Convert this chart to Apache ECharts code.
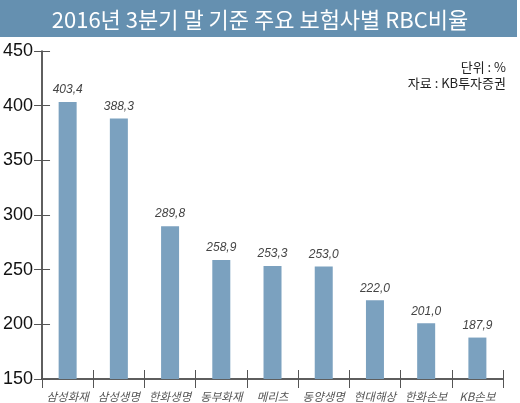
<!DOCTYPE html>
<html>
<head>
<meta charset="utf-8">
<script src="https://cdn.jsdelivr.net/npm/echarts@6/dist/echarts.min.js"></script>
<style>
  html, body { margin: 0; padding: 0; background: #fff; }
  #chart { width: 520px; height: 403px; }
</style>
</head>
<body>
<div id="chart"></div>
<script>
const titleText = '2016년 3분기 말 기준 주요 보험사별 RBC비율';
const companies = ['삼성화재', '삼성생명', '한화생명', '동부화재', '메리츠', '동양생명', '현대해상', '한화손보', 'KB손보'];
const rbcRatio = [403.4, 388.3, 289.8, 258.9, 253.3, 253.0, 222.0, 201.0, 187.9];
const yTicks = { min: 150, max: 450, interval: 50 };

const chart = echarts.init(document.getElementById('chart'), null, { renderer: 'canvas' });

const korFont = '"Noto Sans CJK KR", "Noto Sans", sans-serif';
const axisColor = '#2a2a2a';

chart.setOption({
  backgroundColor: '#fff',
  animation: false,
  title: {
    text: titleText,
    left: 'center',
    top: 4,
    textStyle: { color: '#fff', fontSize: 22, fontWeight: 'normal', fontFamily: korFont },
  },
  graphic: [
    { type: 'rect', z: -1, shape: { x: 0, y: 0, width: 517, height: 37 }, style: { fill: '#6590b0' } },
    {
      type: 'text', right: 14, top: 61,
      style: { text: '단위 : %', fill: '#222', font: '13px ' + korFont, textAlign: 'right' },
    },
    {
      type: 'text', right: 14, top: 77,
      style: { text: '자료 : KB투자증권', fill: '#222', font: '13px ' + korFont, textAlign: 'right' },
    },
  ],
  grid: { left: 38, right: 17, top: 51, bottom: 24, containLabel: false },
  xAxis: [
    {
      type: 'category',
      data: companies,
      axisLine: { lineStyle: { color: axisColor, width: 1.5 } },
      axisTick: { show: true, interval: 0, length: 9, lineStyle: { color: '#555', width: 1 } },
      axisLabel: {
        interval: 0, margin: 12, color: '#555', fontSize: 11.5, fontStyle: 'italic', fontFamily: korFont,
      },
    },
    {
      type: 'category',
      data: companies,
      position: 'bottom',
      axisLine: { show: false },
      axisTick: { show: true, interval: 0, inside: true, length: 9, lineStyle: { color: '#555', width: 1 } },
      axisLabel: { show: false },
    },
  ],
  yAxis: [
    {
      type: 'value',
      min: yTicks.min, max: yTicks.max, interval: yTicks.interval,
      axisLine: { show: true, lineStyle: { color: axisColor, width: 1.5 } },
      axisTick: { show: true, length: 8, lineStyle: { color: '#555' } },
      splitLine: { show: false },
      axisLabel: {
        margin: 9, color: '#111', fontSize: 18, fontFamily: '"Liberation Sans", Arial, sans-serif',
      },
    },
    {
      type: 'value',
      position: 'left',
      min: yTicks.min, max: yTicks.max, interval: yTicks.interval,
      axisLine: { show: false },
      axisTick: { show: true, inside: true, length: 8, lineStyle: { color: '#555' } },
      splitLine: { show: false },
      axisLabel: { show: false },
    },
  ],
  series: [{
    type: 'bar',
    data: rbcRatio,
    barWidth: 18,
    itemStyle: { color: '#7ba1bf' },
    label: {
      show: true,
      position: 'top',
      distance: 6,
      color: '#444',
      fontSize: 12,
      fontStyle: 'italic',
      fontFamily: '"Liberation Sans", Arial, sans-serif',
      formatter: p => p.value.toFixed(1).replace('.', ','),
    },
  }],
});
</script>
</body>
</html>
